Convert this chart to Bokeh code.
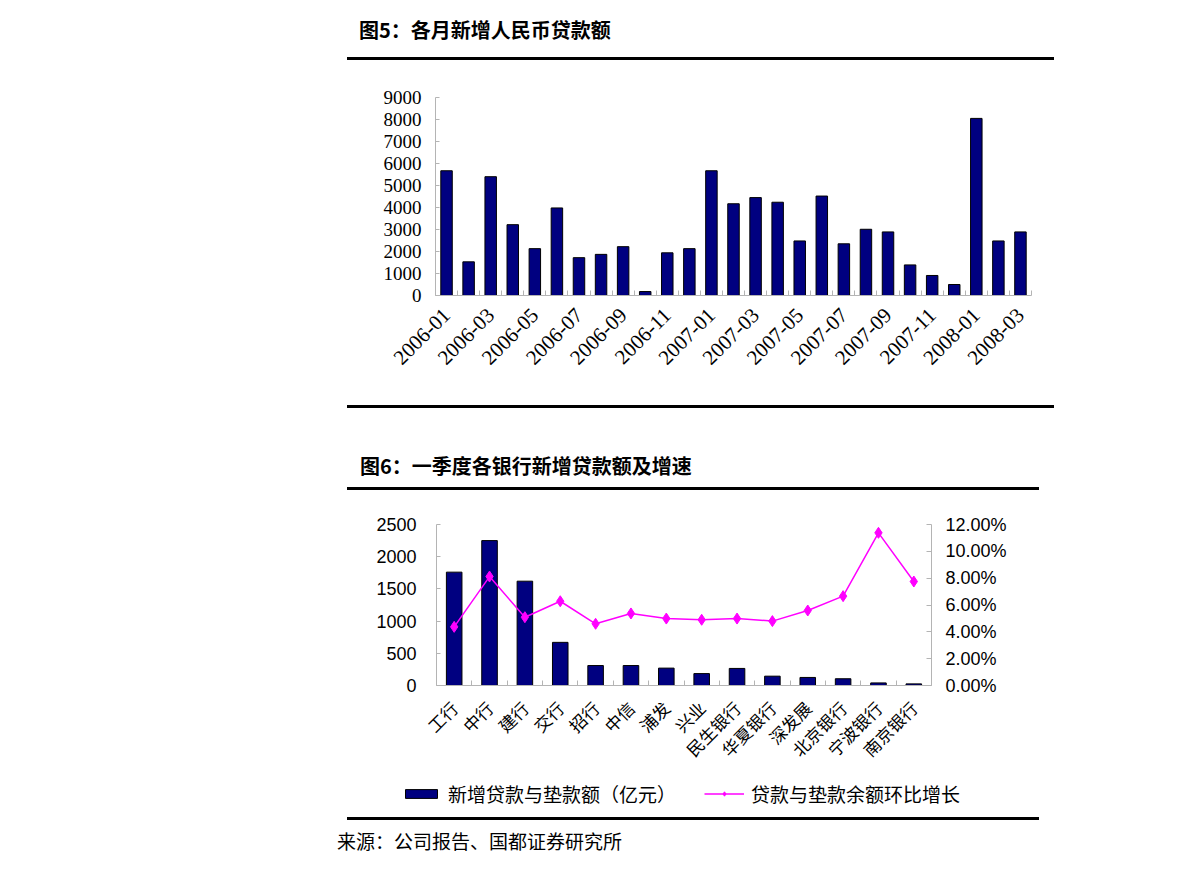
import math
from bokeh.plotting import figure
from bokeh.models import (Range1d, LinearAxis, FixedTicker, NumeralTickFormatter,
                          Legend, LegendItem, Div, Spacer)
from bokeh.layouts import column, row
from bokeh.embed import file_html
from bokeh.resources import INLINE

# ---------------- data ----------------
months = ["2006-01", "2006-02", "2006-03", "2006-04", "2006-05", "2006-06",
          "2006-07", "2006-08", "2006-09", "2006-10", "2006-11", "2006-12",
          "2007-01", "2007-02", "2007-03", "2007-04", "2007-05", "2007-06",
          "2007-07", "2007-08", "2007-09", "2007-10", "2007-11", "2007-12",
          "2008-01", "2008-02", "2008-03"]
monthly_loans = [5670, 1530, 5400, 3220, 2130, 3980, 1720, 1870, 2220, 180, 1940, 2130,
                 5670, 4170, 4450, 4240, 2480, 4520, 2350, 3010, 2890, 1390, 910, 500,
                 8050, 2480, 2890]
y1_ticks = [0, 1000, 2000, 3000, 4000, 5000, 6000, 7000, 8000, 9000]

banks = ["工行", "中行", "建行", "交行", "招行", "中信", "浦发", "兴业",
         "民生银行", "华夏银行", "深发展", "北京银行", "宁波银行", "南京银行"]
new_loans = [1760, 2250, 1620, 670, 310, 310, 270, 185, 265, 145, 125, 105, 40, 25]
growth = [0.0437, 0.0812, 0.0509, 0.0628, 0.0460, 0.0537, 0.0499, 0.0490,
          0.0499, 0.0480, 0.0559, 0.0666, 0.1138, 0.0775]
y2_ticks = [0, 500, 1000, 1500, 2000, 2500]
pct_ticks = [0, 0.02, 0.04, 0.06, 0.08, 0.10, 0.12]

title1 = "图5：各月新增人民币贷款额"
title2 = "图6：一季度各银行新增贷款额及增速"
legend_bar = "新增贷款与垫款额（亿元）"
legend_line = "贷款与垫款余额环比增长"
source_text = "来源：公司报告、国都证券研究所"

CJK = "Noto Sans CJK SC"
AXIS_GREY = "#b4b4b4"
NAVY = "#000080"
MAGENTA = "#FF00FF"

# ---------------- chart 1 ----------------
n1 = len(months)
x1 = list(range(n1))
p1 = figure(width=717, height=342, x_range=Range1d(-0.5, n1 - 0.5),
            y_range=Range1d(0, 9000), output_backend="svg", toolbar_location=None,
            min_border_left=98, min_border_right=23, min_border_top=36,
            min_border_bottom=108, margin=(0, 0, 0, 0))
p1.outline_line_color = None
p1.grid.visible = False

p1.vbar(x=x1, top=monthly_loans, width=0.52, fill_color=NAVY,
        line_color="black", line_width=1)

xa = p1.xaxis[0]
xa.ticker = FixedTicker(ticks=x1[::2], minor_ticks=[i - 0.5 for i in range(n1 + 1)])
xa.major_label_overrides = {i: months[i] for i in x1[::2]}
xa.major_label_orientation = math.pi / 4
xa.major_tick_line_color = None
xa.minor_tick_in = 5
xa.minor_tick_out = 0
xa.minor_tick_line_color = AXIS_GREY
xa.axis_line_color = AXIS_GREY
xa.major_label_text_font = "Liberation Serif"
xa.major_label_text_font_size = "21px"
xa.major_label_text_color = "black"
xa.major_label_standoff = 10

ya = p1.yaxis[0]
ya.ticker = FixedTicker(ticks=y1_ticks)
ya.axis_line_color = AXIS_GREY
ya.major_tick_line_color = AXIS_GREY
ya.major_tick_in = 4
ya.major_tick_out = 0
ya.minor_tick_line_color = None
ya.major_label_text_font = "Liberation Serif"
ya.major_label_text_font_size = "19px"
ya.major_label_text_color = "black"
ya.major_label_standoff = 14

# ---------------- chart 2 ----------------
# The frame fills the whole figure; axes are pinned at data locations so that
# the legend (drawn inside the frame) can sit below the category labels.
n2 = len(banks)
x2 = list(range(n2))
W2, H2 = 702, 324
PAD_L, PAD_R, PAD_T, PAD_B = 99, 108, 33, 130
cat_px = (W2 - PAD_L - PAD_R) / n2
y2_max = 2500
px_per_unit = (H2 - PAD_T - PAD_B) / y2_max
pct_max = 0.12
pct_per_unit = pct_max / y2_max
y_lo = -PAD_B / px_per_unit
y_hi = y2_max + PAD_T / px_per_unit

p2 = figure(width=W2, height=H2,
            x_range=Range1d(-0.5 - PAD_L / cat_px, n2 - 0.5 + PAD_R / cat_px),
            y_range=Range1d(y_lo, y_hi), output_backend="svg", toolbar_location=None,
            min_border_left=0, min_border_right=0, min_border_top=0,
            min_border_bottom=0, margin=(0, 0, 0, 0))
p2.outline_line_color = None
p2.grid.visible = False
p2.extra_y_ranges = {"pct": Range1d(y_lo * pct_per_unit, y_hi * pct_per_unit)}

bars = p2.vbar(x=x2, top=new_loans, width=0.44, fill_color=NAVY,
               line_color="black", line_width=1)
ln = p2.line(x2, growth, y_range_name="pct", line_color=MAGENTA, line_width=1.5)
pts = p2.scatter(x2, growth, y_range_name="pct", marker="diamond", size=11,
                 fill_color=MAGENTA, line_color=MAGENTA)

xb = p2.xaxis[0]
xb.fixed_location = 0
xb.bounds = (-0.5, n2 - 0.5)
xb.ticker = FixedTicker(ticks=x2, minor_ticks=[i - 0.5 for i in range(n2 + 1)])
xb.major_label_overrides = {i: banks[i] for i in x2}
xb.major_label_orientation = math.pi / 4
xb.major_tick_line_color = None
xb.minor_tick_in = 5
xb.minor_tick_out = 0
xb.minor_tick_line_color = AXIS_GREY
xb.axis_line_color = AXIS_GREY
xb.major_label_text_font = CJK
xb.major_label_text_font_size = "17px"
xb.major_label_text_color = "black"
xb.major_label_standoff = 13

yb = p2.yaxis[0]
yb.fixed_location = -0.5
yb.bounds = (0, y2_max)
yb.ticker = FixedTicker(ticks=y2_ticks)
yb.axis_line_color = AXIS_GREY
yb.major_tick_line_color = AXIS_GREY
yb.major_tick_in = 4
yb.major_tick_out = 0
yb.minor_tick_line_color = None
yb.major_label_text_font = "Liberation Sans"
yb.major_label_text_font_size = "18px"
yb.major_label_text_color = "black"
yb.major_label_standoff = 20

yr = LinearAxis(y_range_name="pct", ticker=FixedTicker(ticks=pct_ticks),
                formatter=NumeralTickFormatter(format="0.00%"),
                fixed_location=n2 - 0.5, bounds=(0, pct_max))
yr.axis_line_color = AXIS_GREY
yr.major_tick_line_color = AXIS_GREY
yr.major_tick_in = 5
yr.major_tick_out = 0
yr.minor_tick_line_color = None
yr.major_label_text_font = "Liberation Sans"
yr.major_label_text_font_size = "18px"
yr.major_label_text_color = "black"
yr.major_label_standoff = 14
p2.add_layout(yr, "right")

legend = Legend(items=[LegendItem(label=legend_bar, renderers=[bars]),
                       LegendItem(label=legend_line, renderers=[ln, pts])],
                orientation="horizontal", location=(64, 8),
                border_line_color=None, background_fill_alpha=0,
                label_text_font=CJK, label_text_font_size="19px",
                label_text_color="black", label_standoff=7, label_height=20,
                glyph_width=40, glyph_height=11, spacing=28,
                margin=0, padding=0)
p2.add_layout(legend, "center")

# ---------------- text / rules ----------------
def rule(left, top, width):
    return (f'<div style="position:absolute;left:{left}px;top:{top}px;'
            f'width:{width}px;height:3px;background:#000;"></div>')

def label(text, left, top, size, weight="normal"):
    return (f'<div style="position:absolute;left:{left}px;top:{top}px;'
            f'font-family:\'{CJK}\';font-size:{size}px;font-weight:{weight};'
            f'line-height:26px;white-space:nowrap;color:#000;">{text}</div>')

def block(h, inner):
    return Div(width=717, height=h, margin=(0, 0, 0, 0),
               text=f'<div style="position:relative;width:717px;height:{h}px;">{inner}</div>')

div_a = block(61, label(title1, 22, 17, 20, "bold") + rule(10, 57, 707))
div_b = block(88, rule(10, 2, 707) + label(title2, 23, 50, 20, "bold") + rule(10, 84, 692))
div_c = block(44, rule(10, 2, 692) + label(source_text, 0, 13, 19))

def pad(item):
    return row(Spacer(width=337, height=1, margin=(0, 0, 0, 0)), item,
               spacing=0, margin=(0, 0, 0, 0))

layout = column(pad(div_a), pad(p1), pad(div_b), pad(p2), pad(div_c),
                spacing=0, margin=(0, 0, 0, 0))

with open("out.html", "w") as f:
    f.write(file_html(layout, INLINE))
